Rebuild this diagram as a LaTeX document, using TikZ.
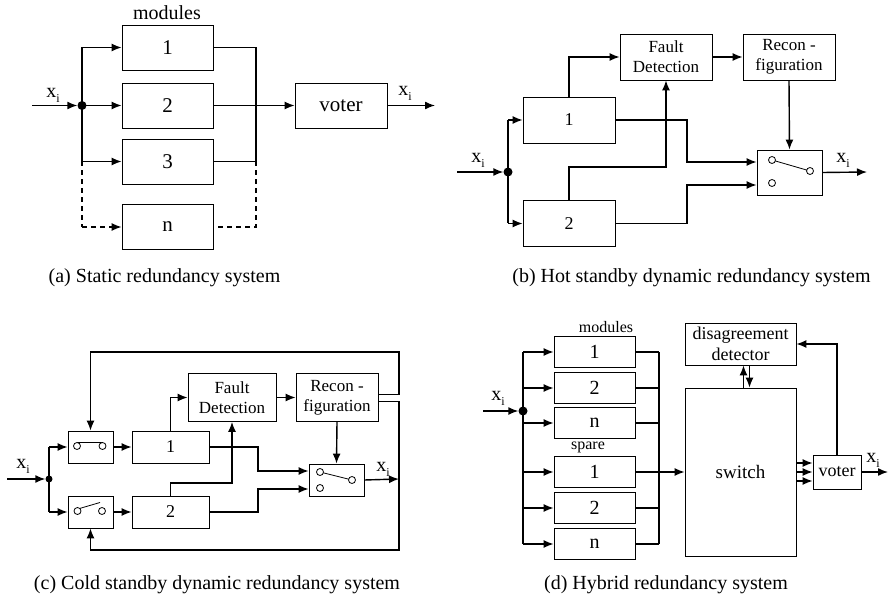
\documentclass[tikz,border=0pt]{standalone}
\usepackage{fontspec}
\setmainfont{Liberation Serif}
\usetikzlibrary{arrows.meta,calc}
\newcommand{\xsub}{x\raisebox{-5pt}{\fontsize{12}{12}\selectfont i}}

\tikzset{blk/.style={draw, line width=0.8pt, inner sep=0pt, align=center},
  wr/.style={line width=1.4pt},
  ar/.style={wr, -{Latex[length=10pt,width=8pt]}},
  dt/.style={circle, fill, inner sep=0pt, minimum size=9pt},
  cir/.style={draw, fill=white, line width=0.8pt},
  lb/.style={inner sep=0pt, font=\fontsize{20}{24}\selectfont},
  sm/.style={inner sep=0pt, font=\fontsize{16}{18}\selectfont},
  ab/.style={blk, font=\fontsize{21}{24}\selectfont, minimum width=91pt, minimum height=45pt},
  bb/.style={blk, font=\fontsize{18}{20}\selectfont, minimum width=92pt, minimum height=46pt},
  cb/.style={blk, font=\fontsize{18}{20}\selectfont, minimum height=32pt},
  db/.style={blk, font=\fontsize{20}{22}\selectfont, minimum width=81pt, minimum height=31pt},
  tx/.style={font=\fontsize{17}{20}\selectfont}}

\begin{document}
\begin{tikzpicture}[x=1pt, y=-1pt]
\useasboundingbox (0,0) rectangle (891,601);

% (a)
\node[ab] (a1) at (167.5,47.5) {1};
\node[ab] (a2) at (167.5,105.5) {2};
\node[ab] (a3) at (167.5,161.5) {3};
\node[ab] (an) at (167.5,227) {n};
\node[ab, minimum width=92pt] (av) at (341,105.5) {voter};
\node[dt] (ad) at (82,105.5) {};
\node[lb] (amod) at (167,13) {modules};
\node[lb] (axin) at (53,95) {\xsub};
\node[lb] (axout) at (405,93) {\xsub};
\coordinate (ain) at (32,105.5);
\coordinate (aout) at (435,105.5);
\coordinate (abus) at (256,0);
\draw[ar] (ain) -- (ad);
\draw[wr] (ad |- a1.west) -- (ad |- a3.west);
\draw[wr, dash pattern=on 5pt off 4pt] (ad |- a3.west) -- (ad |- an.west);
\foreach \b in {a1,a2,a3} \draw[ar] (ad |- \b.west) -- (\b.west);
\draw[ar, dash pattern=on 5pt off 4pt] (ad |- an.west) -- (an.west);
\draw[wr] (a1.east) -| (abus |- a3.east) -- (a3.east);
\draw[wr, dash pattern=on 5pt off 4pt] (abus |- a3.east) |- (an.east);
\draw[ar] (a2.east) -- (av.west);
\draw[ar] (av.east) -- (aout);
\node[lb] (acap) at (164.5,278) {(a) Static redundancy system};

% (b)
\node[bb] (b1) at (569,120) {1};
\node[bb] (b2) at (569,223.5) {2};
\node[bb, tx] (bfd) at (666,57) {Fault\\Detection};
\node[bb, tx] (brc) at (789,57) {Recon -\\figuration};
\node[blk, minimum width=65pt, minimum height=45pt] (bsw) at (789.5,172.5) {};
\node[dt] (bd) at (508,172) {};
\node[lb] (bxin) at (478,160) {\xsub};
\node[lb] (bxout) at (843,160) {\xsub};
\coordinate (bin) at (457,172);
\coordinate (bout) at (867,172);
\draw[ar] (bin) -- (bd);
\draw[wr] (bd |- b1.west) -- (bd |- b2.west);
\foreach \b in {b1,b2} \draw[ar] (bd |- \b.west) -- (\b.west);
\draw[ar] (b1.north) |- (bfd.west);
\draw[ar] (b2.north) -- (569,167) -| (bfd.south);
\draw[ar] (b1.east) -| (687,162) -- ($(bsw.west)+(0,-10.5)$);
\draw[ar] (b2.east) -| (687,185) -- ($(bsw.west)+(0,12.5)$);
\draw[ar] (bfd.east) -- (brc.west);
\draw[ar] (brc.south) -- (bsw.north);
\draw[ar] (bsw.east) -- (bout);
\begin{scope}[shift={(bsw.center)}]
\draw[line width=0.8pt] (-17.5,-12.5) -- (20.5,-1.5);
\draw[cir] (-17.5,-12.5) circle (3.5pt) (20.5,-1.5) circle (3.5pt) (-17.5,10.5) circle (3.5pt);
\end{scope}
\node[lb] (bcap) at (691.5,278) {(b) Hot standby dynamic redundancy system};

% (c)
\node[cb, minimum width=45pt] (cs1) at (90.5,447) {};
\node[cb, minimum width=45pt] (cs2) at (90.5,512) {};
\node[cb, minimum width=77pt] (c1) at (170.5,447) {1};
\node[cb, minimum width=77pt] (c2) at (170.5,512) {2};
\node[cb, tx, minimum width=88pt, minimum height=48pt] (cfd) at (232,397.5) {Fault\\Detection};
\node[cb, tx, minimum width=82pt, minimum height=48pt] (crc) at (337,397.5) {Recon -\\figuration};
\node[cb, minimum width=55pt] (csw) at (336.5,480) {};
\node[dt, minimum size=7pt] (cd) at (49,479) {};
\node[lb] (cxin) at (23,466) {\xsub};
\node[lb] (cxout) at (383,469) {\xsub};
\coordinate (cin) at (7,479);
\coordinate (cout) at (399,479);
\draw[ar] (cin) -- (cd);
\draw[wr] (cd |- cs1.west) -- (cd |- cs2.west);
\foreach \b in {cs1,cs2} \draw[ar] (cd |- \b.west) -- (\b.west);
\draw[ar] (cs1.east) -- (c1.west);
\draw[ar] (cs2.east) -- (c2.west);
\draw[ar] (c1.north) |- (cfd.west);
\draw[ar] (c2.north) -- (170.5,483) -| (cfd.south);
\draw[ar] (c1.east) -| (258,471) -- ($(csw.west)+(0,-9)$);
\draw[ar] (c2.east) -| (258,489) -- ($(csw.west)+(0,9)$);
\draw[ar] (cfd.east) -- (crc.west);
\draw[ar] (crc.south) -- (csw.north);
\draw[ar] (csw.east) -- (cout);
\draw[ar] ($(crc.east)+(0,-3)$) -- (399,394.5) |- (90.5,352) -- (cs1.north);
\draw[ar] ($(crc.east)+(0,4)$) -- (399,401.5) |- (90.5,550) -- (cs2.south);
\begin{scope}[shift={(cs1.center)}]
\draw[line width=0.8pt] (-13.5,-4.5) -- (12,-4.5);
\draw[cir] (-13.5,-1) circle (3.5pt) (12,-1) circle (3.5pt);
\end{scope}
\begin{scope}[shift={(cs2.center)}]
\draw[line width=0.8pt] (-11,-3.5) -- (9.5,-9.5);
\draw[cir] (-13,-1) circle (3.5pt) (11.5,-1) circle (3.5pt);
\end{scope}
\begin{scope}[shift={(csw.center)}]
\draw[line width=0.8pt] (-16.5,-8) -- (15.5,0);
\draw[cir] (-16.5,-8) circle (3.5pt) (15.5,0) circle (3.5pt) (-16.5,8) circle (3.5pt);
\end{scope}
\node[lb] (ccap) at (217,585) {(c) Cold standby dynamic redundancy system};

% (d)
\node[db] (dm1) at (594.5,352) {1};
\node[db] (dm2) at (594.5,388) {2};
\node[db] (dmn) at (594.5,423) {n};
\node[db] (ds1) at (594.5,472) {1};
\node[db] (ds2) at (594.5,508) {2};
\node[db] (dsn) at (594.5,544) {n};
\node[blk, font=\fontsize{19}{22}\selectfont, minimum width=111pt, minimum height=168pt] (dsw) at (740.5,472) {switch};
\node[blk, font=\fontsize{18}{21}\selectfont, minimum width=111pt, minimum height=42pt] (ddd) at (740.5,344) {disagreement\\detector};
\node[blk, font=\fontsize{18}{21}\selectfont, minimum width=48pt, minimum height=34pt] (dv) at (837,472) {voter};
\node[dt] (dd) at (523,411) {};
\node[sm] (dmod) at (606,327) {modules};
\node[sm] (dspr) at (588,447) {spare};
\node[lb] (dxin) at (498,398) {\xsub};
\node[lb] (dxout) at (873,460) {\xsub};
\coordinate (din) at (483,411);
\coordinate (dout) at (888,472);
\coordinate (dbus) at (659,0);
\draw[ar] (din) -- (dd);
\draw[wr] (dd |- dm1.west) -- (dd |- dsn.west);
\foreach \b in {dm1,dm2,dmn,ds1,ds2,dsn} \draw[ar] (dd |- \b.west) -- (\b.west);
\foreach \b in {dm1,dm2,dmn,ds2,dsn} \draw[wr] (\b.east) -- (dbus |- \b.east);
\draw[wr] (dbus |- dm1.east) -- (dbus |- dsn.east);
\draw[ar] (ds1.east) -- (dsw.west);
\draw[ar] ($(dsw.north)+(3,0)$) -- ($(ddd.south)+(3,0)$);
\draw[ar] ($(ddd.south)+(9,0)$) -- ($(dsw.north)+(9,0)$);
\foreach \o in {-9,0,9} \draw[ar] ($(dsw.east)+(0,\o)$) -- ($(dv.west)+(0,\o)$);
\draw[ar] (dv.north) |- (ddd.east);
\draw[ar] (dv.east) -- (dout);
\node[lb] (dcap) at (666,585) {(d) Hybrid redundancy system};
\end{tikzpicture}
\end{document}
